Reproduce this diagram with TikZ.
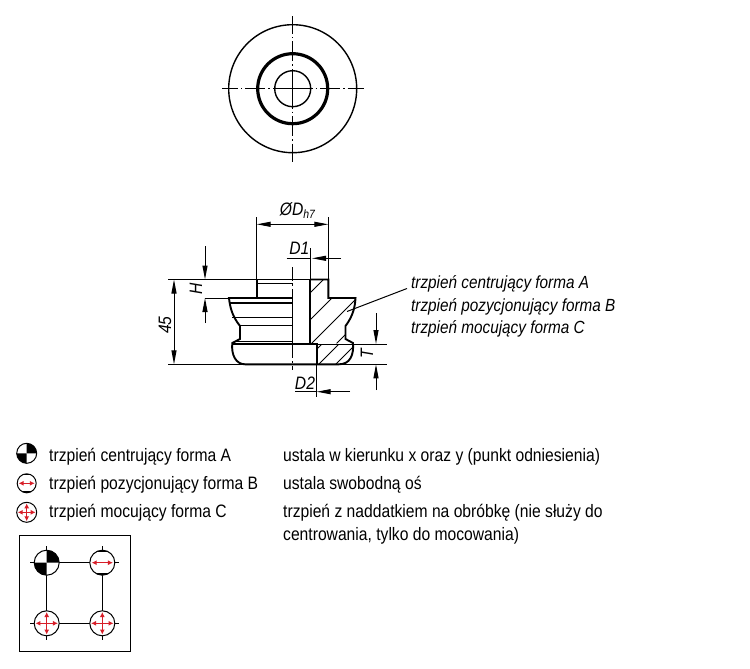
\documentclass[tikz,border=0pt]{standalone}
\usepackage{fontspec}
\setmainfont{Liberation Sans}[FakeStretch=0.87]
\usetikzlibrary{arrows.meta}
\definecolor{pinred}{RGB}{215,30,40}
\tikzset{
  thin line/.style = {line width = 1pt},
  outline/.style = {line width = 1.9pt},
  axis line/.style = {line width = 1.1pt, dash pattern = on 20pt off 3pt on 1.5pt off 3pt},
  dim arrow/.style = {line width = 1pt, -{Triangle[length = 14pt, width = 5pt]}},
  label text/.style = {font = \fontsize{18}{20}\selectfont, anchor = base west, inner sep = 0pt},
  part text/.style = {label text, font = \fontsize{17.6}{20}\selectfont\itshape},
  dim text/.style = {font = \fontsize{18}{20}\selectfont\itshape, inner sep = 0pt},
  red arrow/.style = {draw = pinred, line width = 1.2pt, {Latex[length = 5pt, width = 5pt]}-{Latex[length = 5pt, width = 5pt]}},
  pics/pina/.style = {code = {
    \fill (0,0) -- (#1,0) arc (0:-90:#1) -- cycle;
    \fill (0,0) -- (-#1,0) arc (180:90:#1) -- cycle;
    \draw[thin line] (0,0) circle (#1);
  }},
  pics/pinb/.style = {code = {
    \begin{scope}
      \clip (0,0) circle (#1);
      \fill (-#1,-#1) rectangle (#1,-.85*#1);
      \fill (-#1,#1) rectangle (#1,.85*#1);
    \end{scope}
    \draw[thin line] (0,0) circle (#1);
    \draw[red arrow] (-.85*#1,0) -- (.85*#1,0);
  }},
  pics/pinc/.style = {code = {
    \draw[thin line] (0,0) circle (#1);
    \draw[red arrow] (-.9*#1,0) -- (.9*#1,0);
    \draw[red arrow] (0,-.9*#1) -- (0,.9*#1);
  }}
}
\begin{document}
\begin{tikzpicture}
  [x = 1pt, y = -1pt]
  \useasboundingbox (0,0) rectangle (750,669);
  % top view
  \coordinate (top) at (292.7,88.7);
  \draw[line width = 1.4pt] (top) circle (64);
  \draw[line width = 3.2pt] (top) circle (35);
  \draw[line width = 1.4pt] (top) circle (18);
  \foreach \dx/\dy/\len in {1/0/71, -1/0/71, 0/1/73, 0/-1/73}
    \draw[axis line] (top) -- ++(\dx*\len,\dy*\len);
  % section
  \begin{scope}
    \clip (310,279.5) -- (328.3,279.5) -- (328.3,298) -- (355.5,298)
      .. controls (355,307) and (353,316) .. (345.5,326) -- (345.5,339) -- (353,343)
      -- (310,344) -- cycle;
    \foreach \num in {603,630,655,680}
      \draw[thin line] (\num-380,380) -- ++(110,-110);
  \end{scope}
  \begin{scope}
    \clip (316.7,344) -- (353,344)
      .. controls (354,355) and (350,364.3) .. (339,364.3) -- (316.7,364.3) -- cycle;
    \foreach \num in {666,683,700}
      \draw[thin line] (\num-380,380) -- ++(110,-110);
  \end{scope}
  \draw[outline] (310,344) -- (310,279.5) -- (256.7,279.5) -- (256.7,298);
  \draw[outline] (310,279.5) -- (328.3,279.5) -- (328.3,298) -- (355.5,298)
    .. controls (355,307) and (353,316) .. (345.5,326) -- (345.5,339) -- (353,343)
    .. controls (354,355) and (350,364.3) .. (339,364.3) -- (245,364.3)
    .. controls (236,364.3) and (231,355) .. (232.3,343) -- (240,339) -- (240,326)
    .. controls (232,316) and (230,307) .. (229,298) -- (292.7,298);
  \draw[outline] (232.3,344) -- (316.7,344) -- (316.7,364.3);
  \draw[thin line] (316.7,344) -- (353,344);
  \draw[outline] (230,303) -- (292.7,303);
  \foreach \y/\xs in {283/257, 317.7/232, 325.7/240, 341/236}
    \draw[thin line] (\xs,\y) -- (292.7,\y);
  \draw[thin line] (292.7,298) -- (292.7,344);
  \draw[thin line, dash pattern = on 14pt off 3pt on 2pt off 3pt] (292.7,267) -- (292.7,298);
  \draw[thin line, dash pattern = on 14pt off 3pt on 2pt off 3pt] (292.7,344) -- (292.7,370);
  % dimensions
  \draw[thin line] (256.7,217) -- (256.7,279.5);
  \draw[thin line] (328.3,217) -- (328.3,279.5);
  \draw[dim arrow] (292.5,224.3) -- (256.7,224.3);
  \draw[dim arrow] (292.5,224.3) -- (328.3,224.3);
  \node[dim text] (dimD) at (297.5,211) {ØD\raisebox{-3pt}{\fontsize{12}{13}\selectfont h7}};
  \draw[thin line] (310,248) -- (310,279.5);
  \draw[thin line] (286.7,258.3) -- (310,258.3);
  \draw[dim arrow] (341,258.3) -- (312,258.3);
  \node[dim text] (dimDa) at (299.3,248.5) {D1};
  \draw[thin line] (316.7,364.3) -- (316.7,397);
  \draw[thin line] (295,391.7) -- (316.7,391.7);
  \draw[dim arrow] (350,391.7) -- (316.7,391.7);
  \node[dim text] (dimDb) at (305,383) {D2};
  \draw[thin line] (168,279.5) -- (256.7,279.5);
  \draw[thin line] (168,364.3) -- (245,364.3);
  \draw[thin line] (205,298) -- (229,298);
  \draw[dim arrow] (205,246) -- (205,279.5);
  \draw[dim arrow] (205,323) -- (205,298);
  \node[dim text, rotate = 90] (dimH) at (196,288.5) {H};
  \draw[dim arrow] (174,322) -- (174,279.5);
  \draw[dim arrow] (174,322) -- (174,364.3);
  \node[dim text, rotate = 90] (dimL) at (165,325) {45};
  \draw[thin line] (353,344) -- (386.7,344);
  \draw[thin line] (339,364.3) -- (386.7,364.3);
  \draw[dim arrow] (376,313) -- (376,344);
  \draw[dim arrow] (376,390) -- (376,364.3);
  \node[dim text, rotate = 90] (dimT) at (367,354) {T};
  % labels
  \coordinate (hatch) at (347,311.5);
  \coordinate (leader) at (407,288.5);
  \draw[thin line] (hatch) -- (leader);
  \node[part text] (forma) at (411,288.5) {trzpień centrujący forma A};
  \node[part text] (formb) at (411,311) {trzpień pozycjonujący forma B};
  \node[part text] (formc) at (411,333.5) {trzpień mocujący forma C};
  % legend
  \pic at (26.7,453.3) {pina=10};
  \pic at (26.7,483.3) {pinb=9.5};
  \pic at (26.7,512.3) {pinc=10};
  \node[label text] (lega) at (49,461) {trzpień centrujący forma A};
  \node[label text] (legb) at (49,489) {trzpień pozycjonujący forma B};
  \node[label text] (legc) at (49,517) {trzpień mocujący forma C};
  \node[label text] (desa) at (283,461) {ustala w kierunku x oraz y (punkt odniesienia)};
  \node[label text] (desb) at (283,489) {ustala swobodną oś};
  \node[label text] (desc) at (283,517) {trzpień z naddatkiem na obróbkę (nie służy do};
  \node[label text] (desd) at (283,540) {centrowania, tylko do mocowania)};
  % layout
  \draw[line width = .9pt] (19,535) rectangle (130,651.7);
  \coordinate (pinA) at (46.7,562.7);
  \coordinate (pinB) at (102.3,562.7);
  \coordinate (pinC) at (46.7,623.3);
  \coordinate (pinD) at (102.3,623.3);
  \draw[thin line] (pinA) -- (pinB) -- (pinD) -- (pinC) -- cycle;
  \foreach \p in {pinA,pinB,pinC,pinD}
  {
    \draw[thin line] (\p) ++(-16.5,0) -- ++(33,0);
    \draw[thin line] (\p) ++(0,-16.5) -- ++(0,33);
    \fill[white] (\p) circle (12.5);
  }
  \pic at (pinA) {pina=12.5};
  \pic at (pinB) {pinb=12.5};
  \pic at (pinC) {pinc=12.5};
  \pic at (pinD) {pinc=12.5};
\end{tikzpicture}
\end{document}
